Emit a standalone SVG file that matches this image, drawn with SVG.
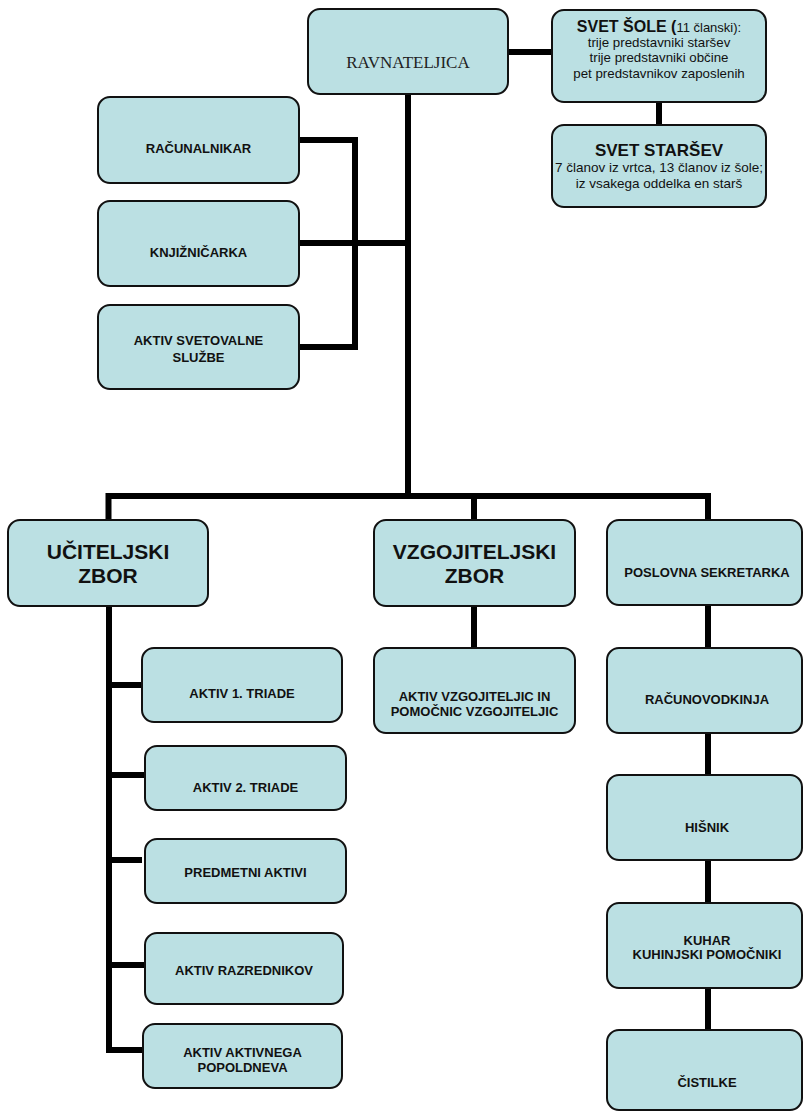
<svg xmlns="http://www.w3.org/2000/svg" width="803" height="1112" viewBox="0 0 803 1112">
<style>
.box{fill:#BBE0E3;stroke:#111;stroke-width:2}
.t{font-family:"Liberation Sans",Arial,sans-serif;font-weight:bold;font-size:13px;fill:#111;text-anchor:middle}
.big{font-size:21px}
.r{font-family:"Liberation Sans",Arial,sans-serif;font-weight:normal;font-size:13.3px;fill:#111;text-anchor:middle}
.serif{font-family:"Liberation Serif","Times New Roman",serif;font-size:17px;fill:#222;text-anchor:middle}
.c{fill:none;stroke:#000;stroke-width:6}
</style>
<rect width="803" height="1112" fill="#fff"/>
<g id="connectors">
<path class="c" d="M508,52 H552"/>
<path class="c" d="M659,102 V125"/>
<path class="c" d="M408,94 V496"/>
<path class="c" d="M108.5,520 V496 H708 V520"/>
<path class="c" d="M474,496 V520"/>
<path class="c" d="M299,243 H408"/>
<path class="c" d="M299,140 H355 V347 H299"/>
<path class="c" d="M109,606 V1053"/>
<path class="c" d="M109,685 H142"/>
<path class="c" d="M109,775 H145"/>
<path class="c" d="M109,860 H142"/>
<path class="c" d="M109,965 H145"/>
<path class="c" d="M109,1050 H143"/>
<path class="c" d="M474,606 V648"/>
<path class="c" d="M708,605 V648"/>
<path class="c" d="M708,733 V775"/>
<path class="c" d="M708,860 V903"/>
<path class="c" d="M708,988 V1030"/>
</g>
<g id="ravnateljica"><rect class="box" x="308" y="9" width="200" height="85" rx="12"/><text class="serif" x="408" y="68">RAVNATELJICA</text></g>
<g id="svet-sole"><rect class="box" x="552" y="10" width="214" height="92" rx="12"/>
<text x="659" y="32" class="r"><tspan font-weight="bold" font-size="16px">SVET ŠOLE (</tspan><tspan font-size="13px">11 članski):</tspan></text>
<text class="r" x="659" y="47">trije predstavniki staršev</text>
<text class="r" x="659" y="62">trije predstavniki občine</text>
<text class="r" x="659" y="78">pet predstavnikov zaposlenih</text></g>
<g id="svet-starsev"><rect class="box" x="552" y="125" width="214" height="82" rx="12"/>
<text class="t" x="659" y="156" font-size="17px" style="font-size:17px">SVET STARŠEV</text>
<text class="r" x="659" y="172" style="font-size:13.5px">7 članov iz vrtca, 13 članov iz šole;</text>
<text class="r" x="659" y="188" style="font-size:13.5px">iz vsakega oddelka en starš</text></g>
<g id="racunalnikar"><rect class="box" x="98" y="97" width="201" height="86" rx="12"/><text class="t" x="198.5" y="153">RAČUNALNIKAR</text></g>
<g id="knjiznicarka"><rect class="box" x="98" y="201" width="201" height="85" rx="12"/><text class="t" x="198.5" y="257">KNJIŽNIČARKA</text></g>
<g id="aktiv-svetovalne"><rect class="box" x="98" y="305" width="201" height="84" rx="12"/><text class="t" x="198.5" y="345">AKTIV SVETOVALNE</text><text class="t" x="198.5" y="362">SLUŽBE</text></g>
<g id="uciteljski-zbor"><rect class="box" x="8" y="520" width="200" height="86" rx="12"/><text class="t big" x="108" y="559">UČITELJSKI</text><text class="t big" x="108" y="583">ZBOR</text></g>
<g id="vzgojiteljski-zbor"><rect class="box" x="374" y="520" width="201" height="86" rx="12"/><text class="t big" x="474.5" y="559">VZGOJITELJSKI</text><text class="t big" x="474.5" y="583">ZBOR</text></g>
<g id="poslovna-sekretarka"><rect class="box" x="607" y="520" width="195" height="85" rx="12"/><text class="t" x="707" y="577">POSLOVNA SEKRETARKA</text></g>
<g id="aktiv-vzgojiteljic"><rect class="box" x="374" y="648" width="201" height="85" rx="12"/><text class="t" x="474.5" y="701">AKTIV VZGOJITELJIC IN</text><text class="t" x="474.5" y="716">POMOČNIC VZGOJITELJIC</text></g>
<g id="racunovodkinja"><rect class="box" x="607" y="648" width="195" height="85" rx="12"/><text class="t" x="707" y="704">RAČUNOVODKINJA</text></g>
<g id="hisnik"><rect class="box" x="607" y="775" width="195" height="85" rx="12"/><text class="t" x="707" y="832">HIŠNIK</text></g>
<g id="kuhar"><rect class="box" x="607" y="903" width="195" height="85" rx="12"/><text class="t" x="707" y="945">KUHAR</text><text class="t" x="707" y="959">KUHINJSKI POMOČNIKI</text></g>
<g id="cistilke"><rect class="box" x="607" y="1030" width="195" height="80" rx="12"/><text class="t" x="707" y="1087">ČISTILKE</text></g>
<g id="aktiv-1-triade"><rect class="box" x="142" y="648" width="200" height="74" rx="12"/><text class="t" x="242" y="698">AKTIV 1. TRIADE</text></g>
<g id="aktiv-2-triade"><rect class="box" x="145" y="746" width="201" height="64" rx="12"/><text class="t" x="245.5" y="792">AKTIV 2. TRIADE</text></g>
<g id="predmetni-aktivi"><rect class="box" x="145" y="839" width="201" height="64" rx="12"/><text class="t" x="245.5" y="877">PREDMETNI AKTIVI</text></g>
<g id="aktiv-razrednikov"><rect class="box" x="145" y="933" width="198" height="71" rx="12"/><text class="t" x="244" y="975">AKTIV RAZREDNIKOV</text></g>
<g id="aktiv-aktivnega"><rect class="box" x="143" y="1024" width="199" height="64" rx="12"/><text class="t" x="242.5" y="1057">AKTIV AKTIVNEGA</text><text class="t" x="242.5" y="1072">POPOLDNEVA</text></g>
</svg>
